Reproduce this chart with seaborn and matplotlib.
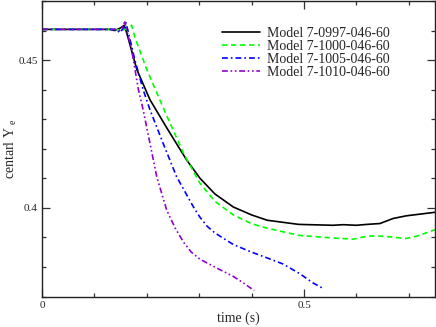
import matplotlib
matplotlib.use("Agg")
import matplotlib.pyplot as plt
import seaborn as sns
import numpy as np
import pandas as pd
from matplotlib.ticker import MultipleLocator, FixedLocator, FuncFormatter

# ---- data ----
labels = ["Model 7-0997-046-60", "Model 7-1000-046-60",
          "Model 7-1005-046-60", "Model 7-1010-046-60"]

t_0997 = [0, 0.13, 0.139, 0.150, 0.157, 0.162, 0.181, 0.206, 0.238, 0.276, 0.3015,
          0.33, 0.365, 0.40, 0.43, 0.49, 0.555, 0.575, 0.60, 0.62, 0.645, 0.67, 0.695, 0.75]
ye_0997 = [0.4604, 0.4604, 0.4600, 0.4609, 0.4618, 0.4590, 0.4468, 0.4366, 0.4271, 0.4162, 0.4100,
           0.4047, 0.4003, 0.3976, 0.3958, 0.3944, 0.3941, 0.3943, 0.3941, 0.3944, 0.3947, 0.3964, 0.3973, 0.3985]

t_1000 = [0, 0.14, 0.152, 0.165, 0.171, 0.1775, 0.2, 0.233, 0.27, 0.3015, 0.33, 0.366,
          0.40, 0.43, 0.49, 0.555, 0.594, 0.62, 0.64, 0.67, 0.693, 0.715, 0.75]
ye_1000 = [0.4604, 0.4604, 0.4601, 0.4606, 0.4618, 0.4576, 0.4468, 0.4332, 0.4185, 0.4083, 0.4022, 0.3975,
           0.3946, 0.3931, 0.3907, 0.3898, 0.3894, 0.3904, 0.3905, 0.3901, 0.3896, 0.3904, 0.3926]

t_1005 = [0, 0.14, 0.149, 0.155, 0.160, 0.164, 0.177, 0.193, 0.206, 0.231, 0.257, 0.289,
          0.3015, 0.315, 0.33, 0.365, 0.40, 0.429, 0.46, 0.492, 0.518, 0.537]
ye_1005 = [0.4604, 0.4604, 0.4593, 0.4608, 0.4627, 0.4600, 0.4502, 0.4400, 0.4332, 0.4219, 0.4105, 0.4003,
           0.3968, 0.3938, 0.3915, 0.3876, 0.3850, 0.3831, 0.3810, 0.3777, 0.3745, 0.3727]

t_1010 = [0, 0.14, 0.147, 0.153, 0.158, 0.162, 0.171, 0.184, 0.193, 0.206, 0.219, 0.238,
          0.254, 0.27, 0.285, 0.3015, 0.336, 0.365, 0.385, 0.405]
ye_1010 = [0.4604, 0.4604, 0.4599, 0.4610, 0.4629, 0.4600, 0.4536, 0.4400, 0.4332, 0.4219, 0.4105, 0.3992,
           0.3932, 0.3884, 0.3850, 0.3826, 0.3794, 0.3768, 0.3745, 0.3720]

series_t = [t_0997, t_1000, t_1005, t_1010]
series_y = [ye_0997, ye_1000, ye_1005, ye_1010]

colors = ["#000000", "#00ff00", "#0000ff", "#9400d3"]
styles = ["-", (0, (3.2, 2.2)), (0, (3.5, 1.8, 1.0, 1.8)), (0, (3.5, 1.6, 1.0, 1.6, 1.0, 1.6))]

sns.set_style("ticks")
plt.rcParams["font.family"] = ["Liberation Serif", "DejaVu Serif"]
plt.rcParams["mathtext.fontset"] = "custom"
plt.rcParams["mathtext.rm"] = "Liberation Serif"
plt.rcParams["mathtext.it"] = "Liberation Serif:italic"

fig = plt.figure(figsize=(4.36, 3.27), dpi=100)
ax = fig.add_axes([42 / 436, 1 - 296.5 / 327, (435 - 42) / 436, (296.5 - 1) / 327])

for t, y, c, ls, lab in zip(series_t, series_y, colors, styles, labels):
    df = pd.DataFrame({"t": t, "ye": y})
    sns.lineplot(data=df, x="t", y="ye", ax=ax, color=c, linestyle=ls, lw=1.2,
                 estimator=None, sort=False, label=lab)

ax.set_xlim(0, 0.75)
ax.set_ylim(0.37, 0.47)
ax.xaxis.set_major_locator(FixedLocator([0, 0.5]))
ax.xaxis.set_minor_locator(MultipleLocator(0.1))
ax.yaxis.set_major_locator(FixedLocator([0.40, 0.45]))
ax.yaxis.set_minor_locator(MultipleLocator(0.01))
fmt = FuncFormatter(lambda v, p: "%g" % round(v, 4))
ax.xaxis.set_major_formatter(fmt)
ax.yaxis.set_major_formatter(fmt)
ax.tick_params(which="both", direction="in", top=True, right=True, labelsize=8,
               color="#333333", width=0.9, pad=3)
ax.tick_params(which="major", length=5.8)
ax.tick_params(which="minor", length=2.9)
for s in ax.spines.values():
    s.set_linewidth(1.0)
    s.set_color("#222222")

ax.set_xlabel("time (s)", fontsize=10, labelpad=1)
ax.set_ylabel("centarl Y $_{\\rm e}$", fontsize=10)
ax.yaxis.set_label_coords(-0.058, 0.5)

leg = ax.legend(loc="upper left", bbox_to_anchor=(0.458, 0.913), frameon=False,
                fontsize=10, handlelength=2.75, handletextpad=0.5,
                labelspacing=0.0, borderpad=0, borderaxespad=0)

fig.savefig("out.png", dpi=100)
